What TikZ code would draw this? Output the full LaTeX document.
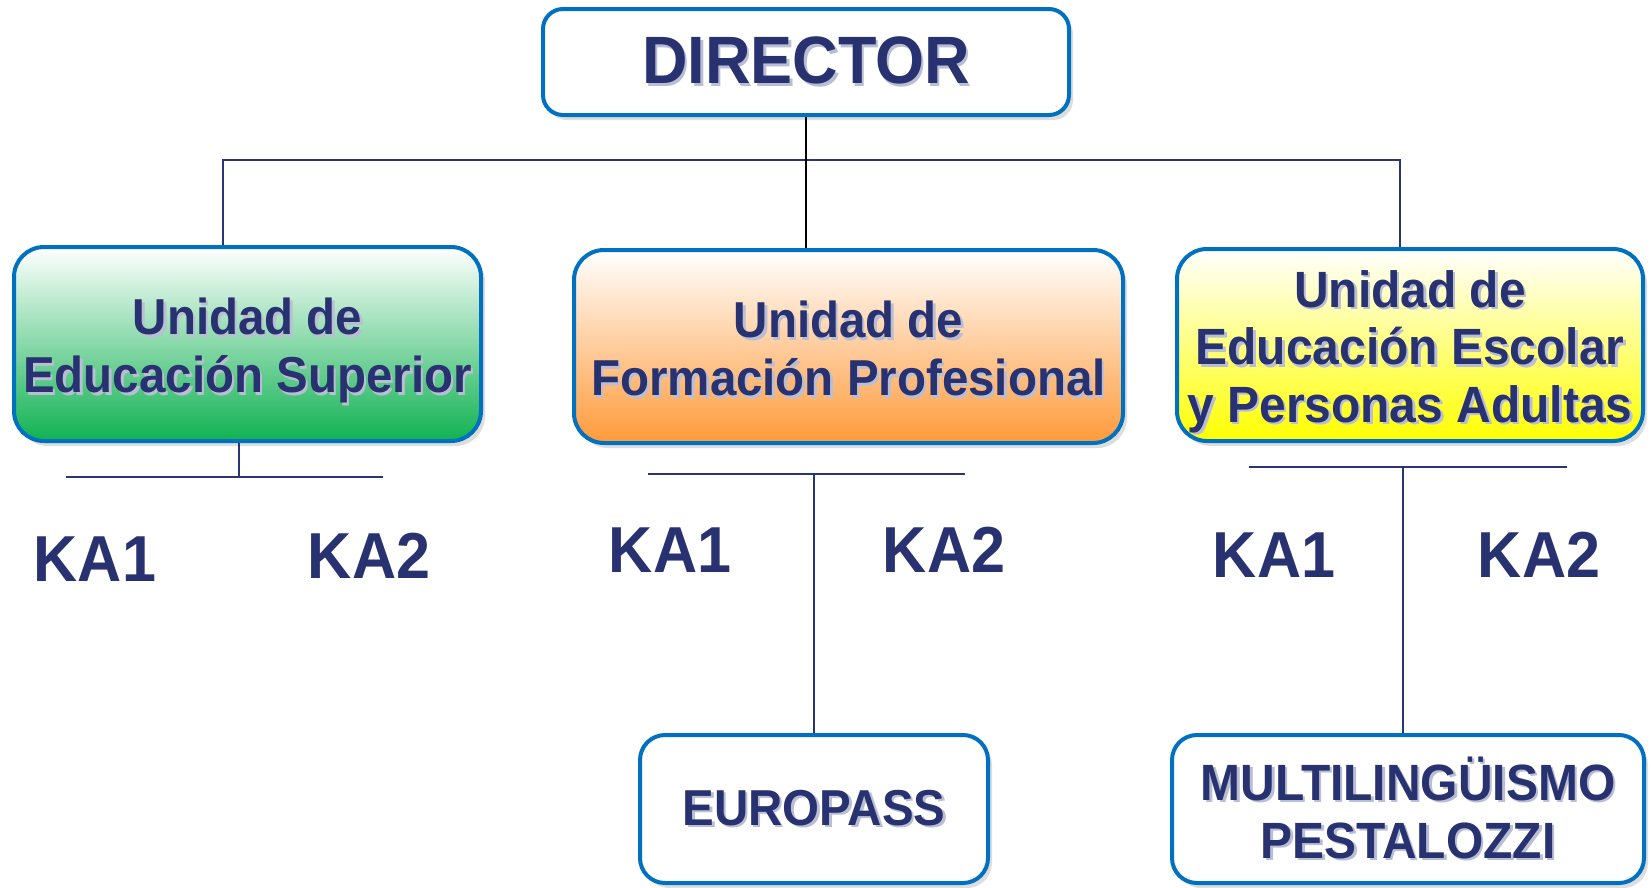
\documentclass[tikz,border=0pt]{standalone}
\usepackage{fontspec}
\setmainfont{Liberation Sans}[FakeStretch=0.94]
\usetikzlibrary{shadows}
\definecolor{navy}{RGB}{40,50,112}
\definecolor{bordblue}{RGB}{0,112,192}
\definecolor{shadc}{RGB}{185,190,212}
\definecolor{gbot}{RGB}{16,178,82}
\definecolor{obot}{RGB}{255,154,58}
\definecolor{ybot}{RGB}{255,255,0}
\definecolor{linec}{RGB}{44,52,120}
\newcommand\shd[1]{\leavevmode\rlap{\kern2.5pt\raisebox{-2.5pt}{\textcolor{shadc}{#1}}}#1}
\tikzset{
  boxbase/.style={draw=bordblue, line width=4pt, align=center, text=navy,
    font=\bfseries, inner sep=0pt,
    drop shadow={shadow xshift=4pt, shadow yshift=-5pt, opacity=0.22, fill=black!60}},
  whitebox/.style={boxbase, fill=white, rounded corners=20pt},
  unitbox/.style={boxbase, rounded corners=30pt, shading angle=0,
    font=\fontsize{50.5}{58}\selectfont\bfseries},
  kalabel/.style={text=navy, font=\fontsize{65}{78}\selectfont\bfseries, inner sep=0pt},
  bus/.style={draw=linec, line width=2pt},
  blk/.style={draw=black, line width=2pt}
}
\begin{document}
\begin{tikzpicture}[x=1pt,y=-1pt]
\useasboundingbox[fill=white] (0,0) rectangle (1652,887);

% boxes
\node[whitebox, minimum width=526pt, minimum height=106pt,
      font=\fontsize{67}{80}\selectfont\bfseries] (dir) at (806,62) {\shd{DIRECTOR}};

\node[unitbox, top color=white, bottom color=gbot, minimum width=467pt, minimum height=194pt]
      (ues) at (247.5,344)
      {\rule{0pt}{52pt}\shd{Unidad de}\\\shd{Educación Superior}};

\node[unitbox, top color=white, bottom color=obot, minimum width=549pt, minimum height=193pt]
      (ufp) at (848.5,346.5)
      {\rule{0pt}{43pt}\shd{Unidad de}\\\shd{Formación Profesional}};

\node[unitbox, top color=white, bottom color=ybot, minimum width=466pt, minimum height=192pt,
      font=\fontsize{51}{57.5}\selectfont\bfseries] (uea) at (1410,345)
      {\rule{0pt}{53pt}\shd{Unidad de}\\\shd{Educación Escolar}\\\shd{y Personas Adultas}};

\node[whitebox, rounded corners=25pt, minimum width=348pt, minimum height=148pt,
      font=\fontsize{50.5}{58}\selectfont\bfseries] (euro) at (814,809) {\shd{EUROPASS}};

\node[whitebox, rounded corners=25pt, minimum width=472pt, minimum height=148pt,
      font=\fontsize{51}{58}\selectfont\bfseries] (multi) at (1408,809)
      {\shd{MULTILINGÜISMO}\\\shd{PESTALOZZI}};

% KA labels
\node[kalabel] (ka1a) at (95,559) {KA1};
\node[kalabel] (ka2a) at (369,556) {KA2};
\node[kalabel] (ka1b) at (670,550) {KA1};
\node[kalabel] (ka2b) at (944,550) {KA2};
\node[kalabel] (ka1c) at (1274,555) {KA1};
\node[kalabel] (ka2c) at (1539,555) {KA2};

% top bus
\coordinate (busL) at (223,160);
\coordinate (busR) at (1400,160);
\draw[bus] (busL |- ues.north) -- (busL) -- (busR) -- (busR |- uea.north);
\draw[blk] (dir.south) -- (dir.south |- ufp.north);

% under green
\coordinate (gJ) at (239,477);
\coordinate (gL) at (66,477);
\coordinate (gR) at (383,477);
\draw[bus] (gJ |- ues.south) -- (gJ);
\draw[bus] (gL) -- (gR);

% under orange
\coordinate (oL) at (648,474);
\coordinate (oR) at (965,474);
\draw[bus] (oL) -- (oR);
\draw[bus] (euro.north) -- (euro.north |- oL);

% under yellow
\coordinate (yL) at (1249,467);
\coordinate (yR) at (1567,467);
\coordinate (yJ) at (1403,467);
\draw[bus] (yL) -- (yR);
\draw[bus] (yJ |- multi.north) -- (yJ);
\end{tikzpicture}
\end{document}
